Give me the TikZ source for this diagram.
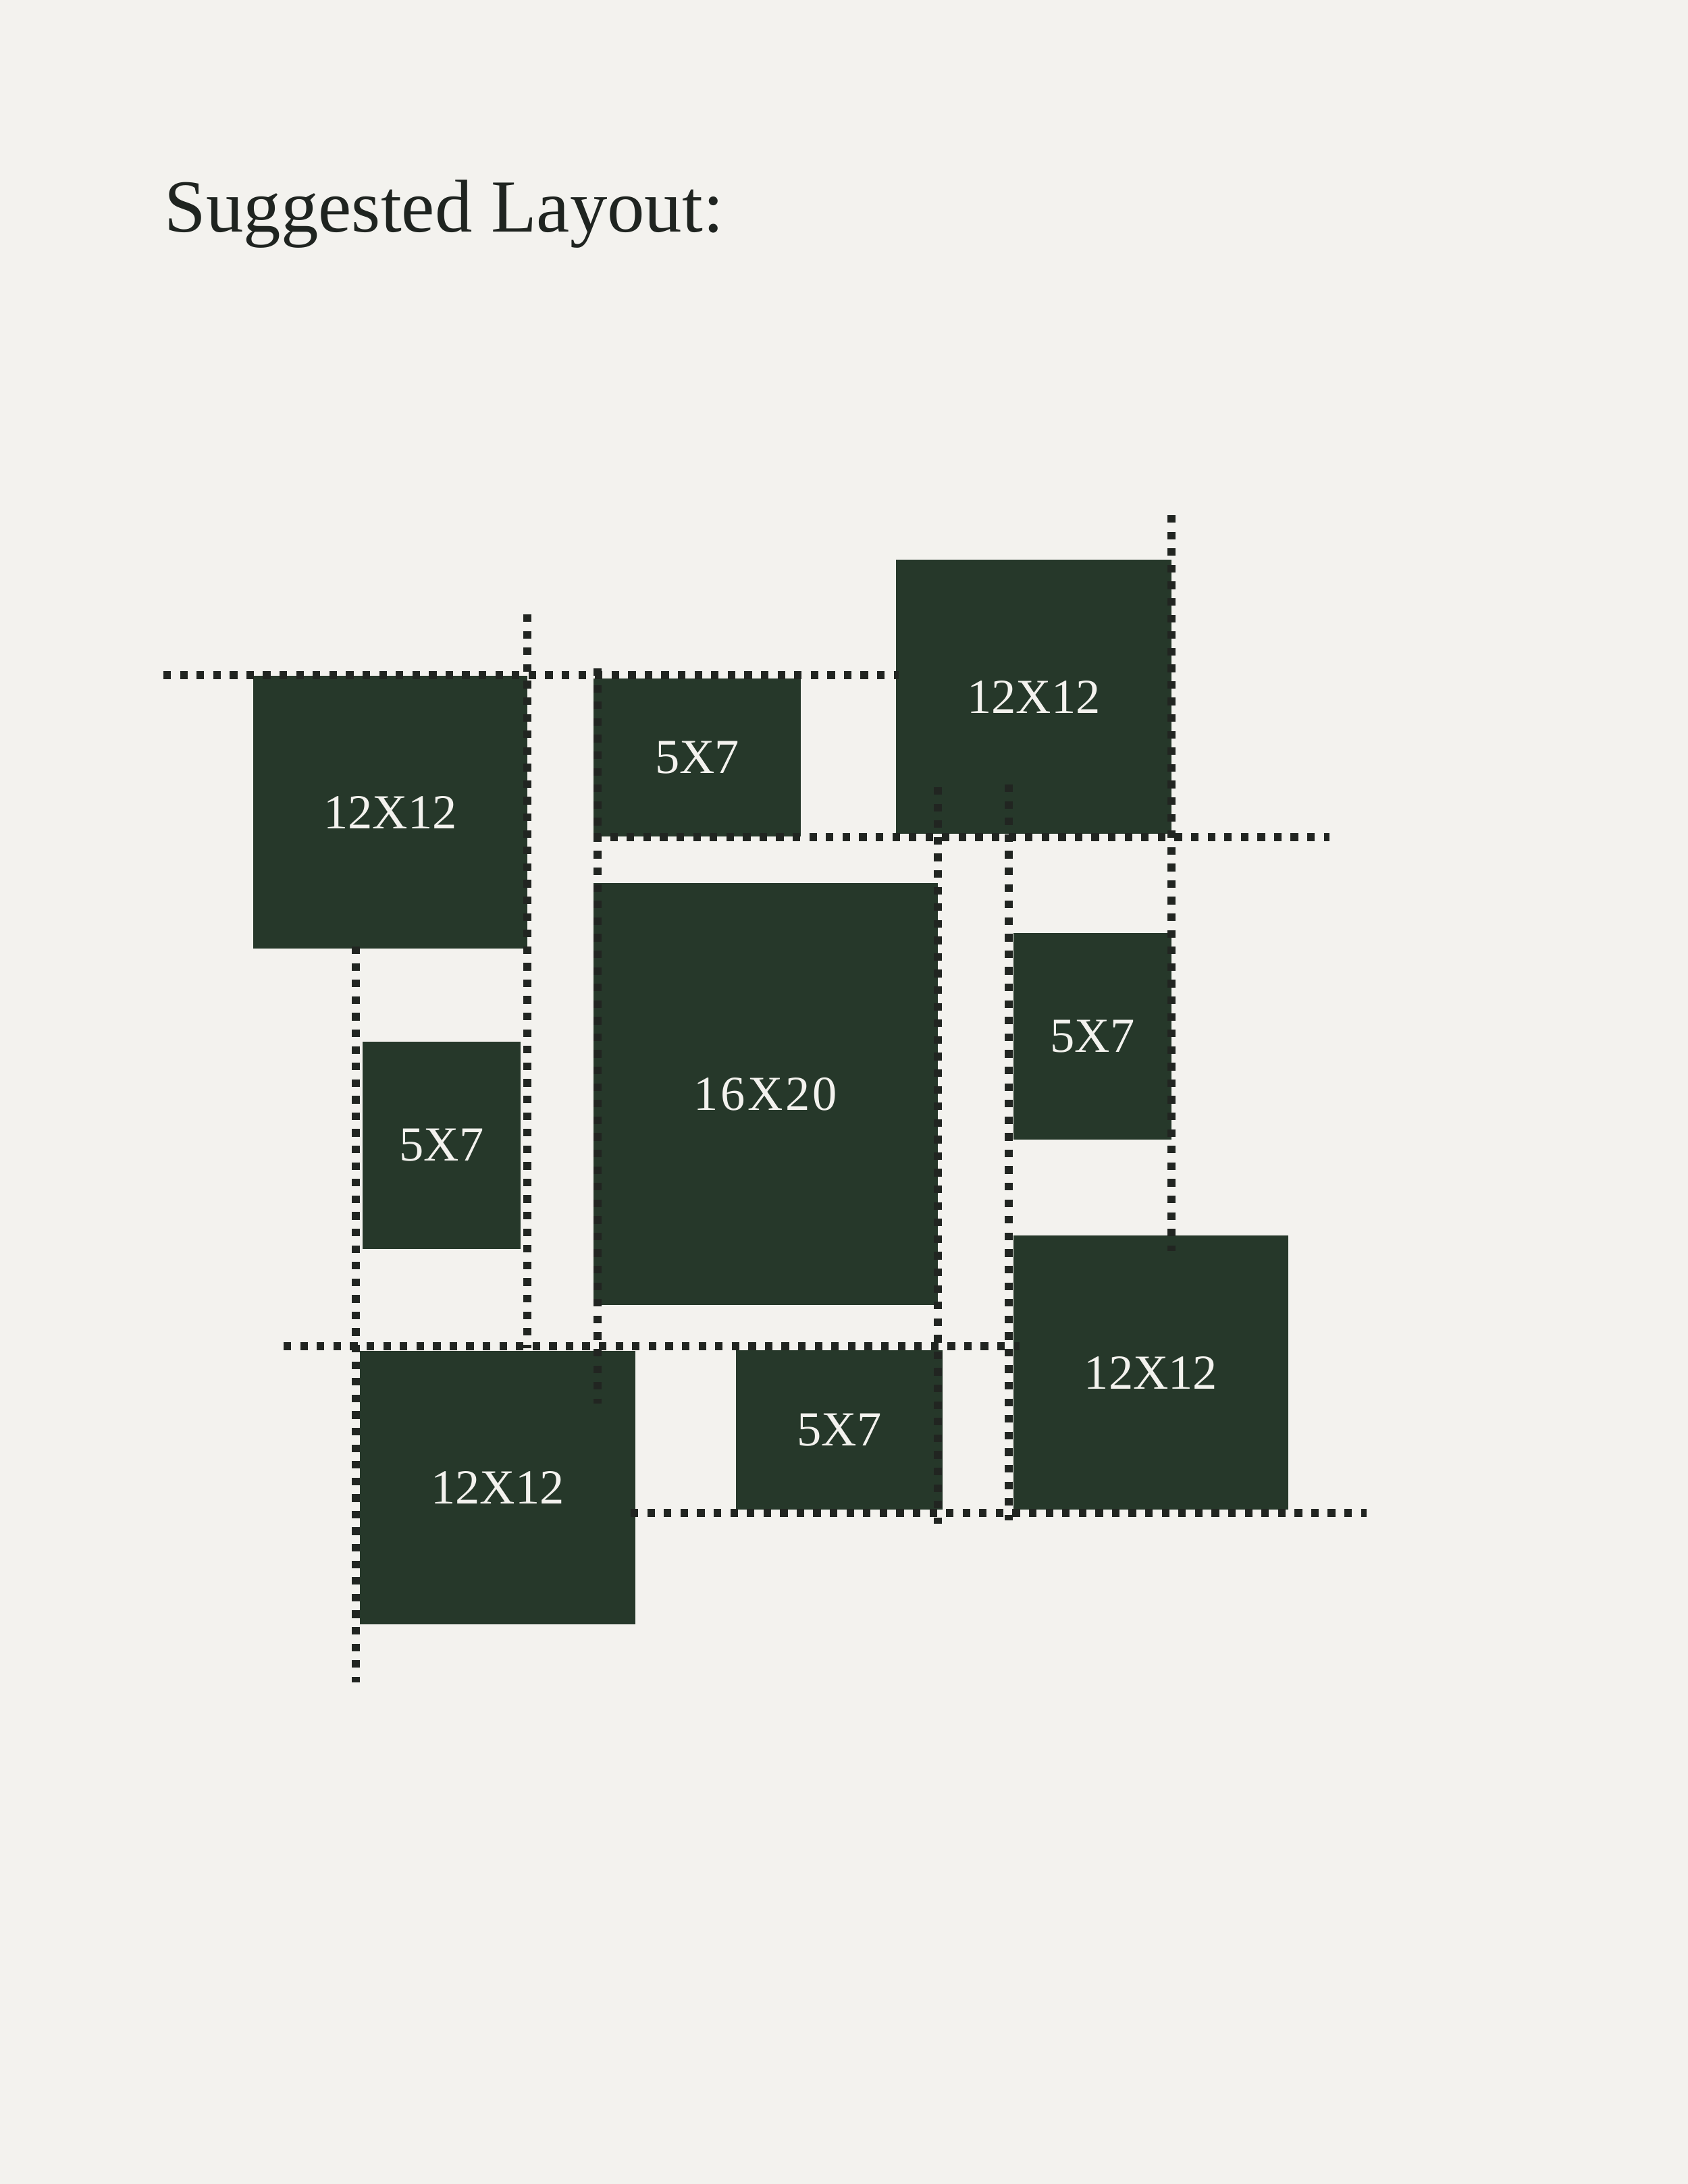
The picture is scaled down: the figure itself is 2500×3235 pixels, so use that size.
\documentclass[tikz,border=0pt]{standalone}
\usepackage{fontspec}
\setmainfont{Liberation Serif}
\definecolor{bgc}{HTML}{F3F2EE}
\definecolor{boxc}{HTML}{26382A}
\definecolor{dotc}{HTML}{212521}
\definecolor{titlec}{HTML}{1F2420}
\tikzset{
  photo/.style={fill=boxc},
  lbl/.style={text=bgc, inner sep=0pt, font=\fontsize{17.4pt}{20pt}\selectfont},
  guide/.style={draw=dotc, line width=2.7pt, dash pattern=on 2.7pt off 3.2pt},
}
\newcommand{\pbox}[6]{%
  \fill[photo] (#1,#2) rectangle (#3,#4);
  \node[lbl] (#5) at ({(#1+#3)/2},{(#2+#4)/2}) {#6};
}
\begin{document}
\begin{tikzpicture}[x=0.24pt,y=-0.24pt]
\fill[bgc] (0,0) rectangle (2500,3235);
\useasboundingbox (0,0) rectangle (2500,3235);
\node[anchor=base west, inner sep=0pt, text=titlec, font=\fontsize{26.6pt}{30pt}\selectfont] (title) at (243,343) {Suggested Layout:};
% photos
\pbox{375}{1001}{781}{1405}{b1}{12X12}
\pbox{879}{1005}{1186}{1239}{b2}{5X7}
\pbox{1327}{829}{1735}{1235}{b3}{12X12}
\pbox{879}{1308}{1389}{1933}{b4}{1\hspace{0.9pt}6\hspace{0.9pt}X\hspace{0.9pt}2\hspace{0.9pt}0}
\pbox{537}{1543}{771}{1850}{b5}{5X7}
\pbox{1501}{1382}{1735}{1688}{b6}{5X7}
\pbox{1501}{1830}{1908}{2236}{b7}{12X12}
\pbox{533}{2001}{941}{2406}{b8}{12X12}
\pbox{1090}{2000}{1396}{2236}{b9}{5X7}
% guide lines
\coordinate (h1a) at (242,1000); \coordinate (h1b) at (1331,1000);
\coordinate (v1a) at (781,910);  \coordinate (v1b) at (781,1997);
\coordinate (v2a) at (1735,763); \coordinate (v2b) at (1735,1853);
\coordinate (h2a) at (879,1240); \coordinate (h2b) at (1969,1240);
\coordinate (v3a) at (885,990);  \coordinate (v3b) at (885,2079);
\coordinate (v4a) at (1389,1166); \coordinate (v4b) at (1389,2257);
\coordinate (v5a) at (1494,1162); \coordinate (v5b) at (1494,2252);
\coordinate (h3a) at (420,1994); \coordinate (h3b) at (1510,1994);
\coordinate (v6a) at (527,1402); \coordinate (v6b) at (527,2492);
\coordinate (h4a) at (934,2241); \coordinate (h4b) at (2024,2241);
\draw[guide] (h1a) -- (h1b);
\draw[guide] (v1a) -- (v1b);
\draw[guide] (v2a) -- (v2b);
\draw[guide] (h2a) -- (h2b);
\draw[guide] (v3a) -- (v3b);
\draw[guide] (v4a) -- (v4b);
\draw[guide] (v5a) -- (v5b);
\draw[guide] (h3a) -- (h3b);
\draw[guide] (v6a) -- (v6b);
\draw[guide] (h4a) -- (h4b);
\end{tikzpicture}
\end{document}
